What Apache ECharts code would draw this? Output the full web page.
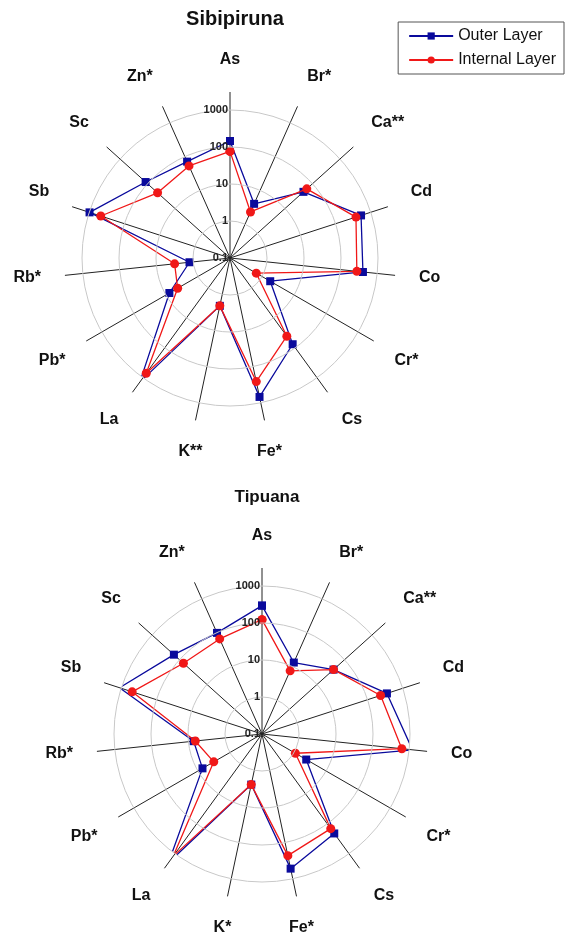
<!DOCTYPE html>
<html lang="en">
<head>
    <meta charset="UTF-8">
    <title>Sibipiruna / Tipuana</title>
    <script src="https://cdn.jsdelivr.net/npm/echarts@6/dist/echarts.min.js"></script>
    <style>
        body { margin: 0; background: #fff; }
        #main { width: 568px; height: 940px; }
    </style>
</head>
<body>
    <div id="main"></div>
    <script>
        const elements = ['As', 'Br*', 'Ca**', 'Cd', 'Co', 'Cr*', 'Cs', 'Fe*', 'K**', 'La', 'Pb*', 'Rb*', 'Sb', 'Sc', 'Zn*'];
        const elementsTip = ['As', 'Br*', 'Ca**', 'Cd', 'Co', 'Cr*', 'Cs', 'Fe*', 'K*', 'La', 'Pb*', 'Rb*', 'Sb', 'Sc', 'Zn*'];

        // Sibipiruna
        const sibOuter = [145, 4.0, 47, 530, 410, 1.8, 76, 690, 2.1, 1400, 7.8, 1.26, 980, 117, 71];
        const sibInner = [76, 2.3, 62, 380, 280, 0.66, 41, 260, 2.1, 710, 4.3, 3.2, 470, 43, 53];
        // Tipuana
        const tipOuter = [295, 13, 40, 355, 1230, 2.4, 210, 525, 2.5, 2000, 7.2, 7.2, 1120, 160, 98];
        const tipInner = [123, 7.4, 40, 235, 630, 1.1, 145, 230, 2.5, 1200, 3.2, 6.5, 490, 72, 65];

        const step = 360 / 15;
        const toPolar = vals => {
            const pts = vals.map((v, i) => [v, i * step]);
            pts.push([vals[0], 360]);
            return pts;
        };

        const chart = echarts.init(document.getElementById('main'));
        const font = 'Liberation Sans, Arial, sans-serif';

        const centers = [[230, 258], [262, 734]];
        const labelSets = [elements, elementsTip];

        const polar = [], angleAxis = [], radiusAxis = [];
        centers.forEach((c, k) => {
            // spokes + element labels
            polar.push({ center: c, radius: 166 });
            angleAxis.push({
                polarIndex: polar.length - 1,
                type: 'value', min: 0, max: 360, interval: step, startAngle: 90, clockwise: true,
                axisLine: { show: false }, axisTick: { show: false },
                splitLine: { show: true, lineStyle: { color: '#222', width: 1 } },
                axisLabel: {
                    margin: 24, fontFamily: font, fontWeight: 'bold', fontSize: 16, color: '#111',
                    formatter: v => Math.round(v) >= 360 ? '' : labelSets[k][Math.round(v / step) % 15]
                }
            });
            radiusAxis.push({ polarIndex: polar.length - 1, type: 'value', min: 0, max: 1, show: false });

            // log rings + data
            polar.push({ center: c, radius: 148 });
            angleAxis.push({
                polarIndex: polar.length - 1,
                type: 'value', min: 0, max: 360, interval: step, startAngle: 90, clockwise: true, show: false
            });
            radiusAxis.push({
                polarIndex: polar.length - 1,
                type: 'log', min: 0.1, max: 1000, logBase: 10,
                axisLine: { show: false }, axisTick: { show: false },
                splitLine: { show: true, lineStyle: { color: '#c8c8c8', width: 1 } },
                axisLabel: {
                    fontFamily: font, fontWeight: 'bold', fontSize: 11, color: '#222', margin: 2,
                    formatter: v => String(v)
                },
                z: 5
            });
        });

        const mk = (name, data, idx, color, symbol) => ({
            name: name, type: 'line', coordinateSystem: 'polar', polarIndex: idx,
            data: toPolar(data), symbol: symbol, symbolSize: symbol === 'rect' ? 8 : 9,
            showSymbol: true, showAllSymbol: true,
            itemStyle: { color: color }, lineStyle: { color: color, width: 1.3 },
            z: name === 'Outer Layer' ? 3 : 4
        });

        chart.setOption({
            animation: false,
            title: [
                { text: 'Sibipiruna', left: 230, top: 4, textAlign: 'center',
                  textStyle: { fontFamily: font, fontWeight: 'bold', fontSize: 20, color: '#111' } },
                { text: 'Tipuana', left: 262, top: 484, textAlign: 'center',
                  textStyle: { fontFamily: font, fontWeight: 'bold', fontSize: 17, color: '#111' } }
            ],
            legend: {
                orient: 'vertical', right: 4, top: 22, itemWidth: 44, itemHeight: 9, itemGap: 8,
                borderColor: '#555', borderWidth: 1, padding: [6, 8, 6, 10], borderRadius: 0,
                textStyle: { fontFamily: font, fontSize: 16, color: '#111' },
                data: ['Outer Layer', 'Internal Layer']
            },
            polar: polar,
            angleAxis: angleAxis,
            radiusAxis: radiusAxis,
            series: [
                mk('Outer Layer', sibOuter, 1, '#0a0a9c', 'rect'),
                mk('Internal Layer', sibInner, 1, '#f01818', 'circle'),
                mk('Outer Layer', tipOuter, 3, '#0a0a9c', 'rect'),
                mk('Internal Layer', tipInner, 3, '#f01818', 'circle')
            ]
        });
    </script>
</body>
</html>
